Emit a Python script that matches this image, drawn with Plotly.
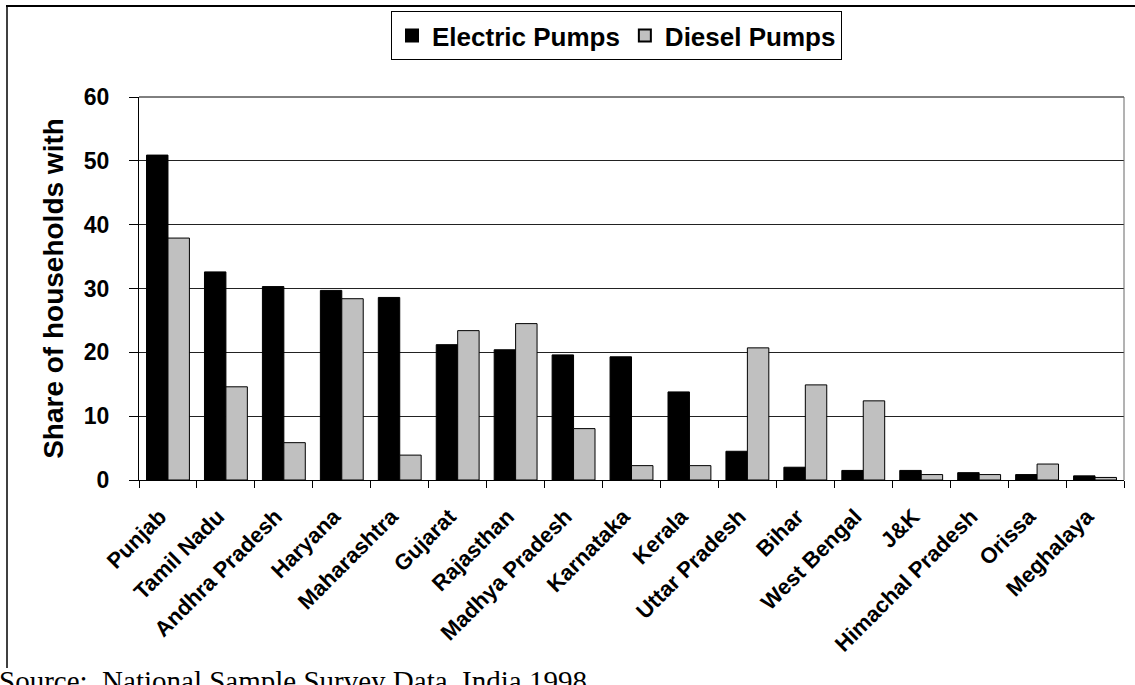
import plotly.graph_objects as go

states = ["Punjab", "Tamil Nadu", "Andhra Pradesh", "Haryana", "Maharashtra", "Gujarat",
          "Rajasthan", "Madhya Pradesh", "Karnataka", "Kerala", "Uttar Pradesh", "Bihar",
          "West Bengal", "J&K", "Himachal Pradesh", "Orissa", "Meghalaya"]
electric = [50.9, 32.6, 30.3, 29.7, 28.6, 21.2, 20.4, 19.6, 19.3, 13.8, 4.5, 2.0, 1.5, 1.5, 1.15, 0.85, 0.65]
diesel = [37.9, 14.6, 5.85, 28.4, 3.9, 23.4, 24.5, 8.05, 2.25, 2.25, 20.7, 14.9, 12.4, 0.85, 0.85, 2.5, 0.4]
y_ticks = [0, 10, 20, 30, 40, 50, 60]

FONT = "Arial, Liberation Sans, sans-serif"

fig = go.Figure()
fig.add_trace(go.Bar(x=states, y=electric, name="Electric Pumps",
                     marker=dict(color="black", line=dict(color="black", width=1))))
fig.add_trace(go.Bar(x=states, y=diesel, name="Diesel Pumps",
                     marker=dict(color="#C0C0C0", line=dict(color="black", width=1))))

L, R, T, B = 139, 11, 97, 205
W, H = 1135, 685
pw, ph = W - L - R, H - T - B

def px(x):
    return (x - L) / pw

def py(y):
    return (H - B - y) / ph

fig.update_layout(
    width=W, height=H,
    margin=dict(l=L, r=R, t=T, b=B, autoexpand=False),
    paper_bgcolor="white", plot_bgcolor="white",
    barmode="group", bargap=0.26, bargroupgap=0,
    font=dict(family=FONT, color="black"),
    showlegend=True,
    legend=dict(orientation="h", x=px(391), y=py(11), xanchor="left", yanchor="top",
                bordercolor="black", borderwidth=1, bgcolor="white",
                font=dict(family=FONT, size=26, color="black", weight="bold"),
                itemsizing="constant", tracegroupgap=0, itemwidth=30),
    xaxis=dict(tickangle=-45, showline=True, linecolor="black", linewidth=1,
               ticks="outside", ticklen=7, tickcolor="black", tickson="boundaries",
               ticklabelstandoff=14, ticklabelshift=-8,
               tickfont=dict(family=FONT, size=22, color="black", weight="bold"),
               mirror=False),
    yaxis=dict(range=[0, 60], tickvals=y_ticks, showgrid=True, gridcolor="#222222",
               gridwidth=1, showline=True, linecolor="black", linewidth=1,
               ticks="outside", ticklen=9, tickcolor="black", ticklabelstandoff=15,
               tickfont=dict(family=FONT, size=23, color="black", weight="bold"),
               title=dict(text="Share of households with", standoff=12,
                          font=dict(family=FONT, size=28, color="black", weight="bold")),
               zeroline=False),
)

# plot-area top and right borders
fig.add_shape(type="line", xref="paper", yref="paper", x0=0, x1=1, y0=1, y1=1,
              line=dict(color="black", width=1))
fig.add_shape(type="line", xref="paper", yref="paper", x0=1, x1=1, y0=0, y1=1,
              line=dict(color="#666666", width=1))
# chart-area border (top and left)
fig.add_shape(type="line", xref="paper", yref="paper", x0=px(6), x1=px(1135), y0=py(6), y1=py(6),
              line=dict(color="black", width=2))
fig.add_shape(type="line", xref="paper", yref="paper", x0=px(7), x1=px(7), y0=py(6), y1=py(668),
              line=dict(color="black", width=1.5))

fig.add_annotation(text="Source:  National Sample Survey Data, India 1998",
                   xref="paper", yref="paper", x=px(-3), y=py(663), xanchor="left", yanchor="top",
                   showarrow=False, font=dict(family="Liberation Serif, Times New Roman, serif",
                                              size=29, color="black"))

fig.write_html("out.html", post_script="document.body.style.margin='0';",
               config={"displayModeBar": False})
